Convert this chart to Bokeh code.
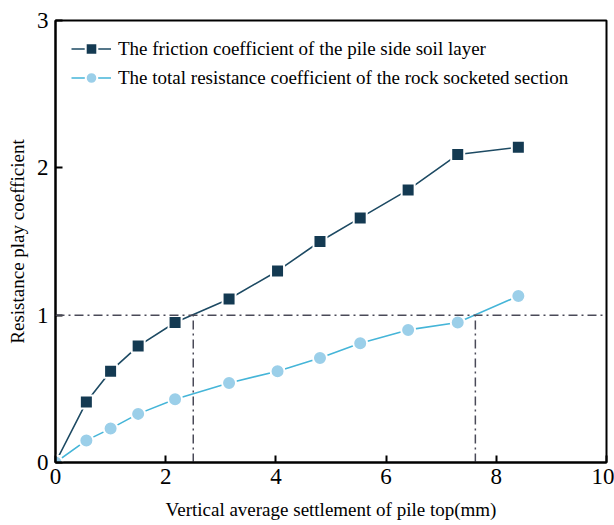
from bokeh.plotting import figure
from bokeh.models import Range1d, FixedTicker, Span
from bokeh.embed import file_html
from bokeh.resources import INLINE

# Settlement of pile top (mm)
settlement = [0, 0.56, 1.0, 1.5, 2.17, 3.15, 4.03, 4.8, 5.53, 6.4, 7.3, 8.4]
# Friction coefficient of the pile side soil layer
friction_coef = [0, 0.41, 0.62, 0.79, 0.95, 1.11, 1.30, 1.50, 1.66, 1.85, 2.09, 2.14]
# Total resistance coefficient of the rock socketed section
rock_coef = [0, 0.15, 0.23, 0.33, 0.43, 0.54, 0.62, 0.71, 0.81, 0.90, 0.95, 1.13]

# Reference level and the settlements where each curve reaches it
ref_level = 1.0
crossings = [2.5, 7.62]

x_ticks = [0, 2, 4, 6, 8, 10]
y_ticks = [0, 1, 2, 3]

FONT = "Liberation Serif"
DARK = "#143a52"
DARK_LINE = "#1d4a63"
LIGHT = "#9bcfe9"
LIGHT_LINE = "#45b5d8"
GUIDE = "#4a4a58"

p = figure(width=614, height=525, output_backend="svg", toolbar_location=None,
           x_range=Range1d(0, 10), y_range=Range1d(0, 3),
           min_border_left=55, min_border_right=8, min_border_top=20,
           min_border_bottom=63)

p.xgrid.visible = False
p.ygrid.visible = False
p.outline_line_color = "black"
p.outline_line_width = 2
p.background_fill_color = "white"
p.border_fill_color = "white"

for ax in (p.xaxis[0], p.yaxis[0]):
    ax.axis_line_color = "black"
    ax.axis_line_width = 2
    ax.major_tick_in = 7
    ax.major_tick_out = 0
    ax.major_tick_line_width = 2
    ax.minor_tick_line_color = None
    ax.major_label_text_font = FONT
    ax.major_label_text_font_size = "23px"
    ax.major_label_text_color = "black"
    ax.axis_label_text_font = FONT
    ax.axis_label_text_font_size = "19px"
    ax.axis_label_text_font_style = "normal"
    ax.axis_label_text_color = "black"

p.xaxis.ticker = FixedTicker(ticks=x_ticks)
p.yaxis.ticker = FixedTicker(ticks=y_ticks)
p.xaxis.major_label_standoff = 6
p.yaxis.major_label_standoff = 7
p.xaxis.axis_label = "Vertical average settlement of pile top(mm)"
p.yaxis.axis_label = "Resistance play coefficient"
p.xaxis.axis_label_standoff = 12
p.yaxis.axis_label_standoff = 6

# Dash-dot guides at the reference level
p.add_layout(Span(location=ref_level, dimension="width", line_color=GUIDE,
                  line_width=1.5, line_dash="9 4 2 4"))
p.segment(x0=crossings, y0=[0] * len(crossings), x1=crossings,
          y1=[ref_level] * len(crossings), line_color=GUIDE, line_width=1.5,
          line_dash="9 4 2 4")

lab1 = "The friction coefficient of the pile side soil layer"
lab2 = "The total resistance coefficient of the rock socketed section"

p.line(settlement, friction_coef, line_color=DARK_LINE, line_width=1.6, legend_label=lab1)
p.scatter(settlement, friction_coef, marker="square", size=13, fill_color=DARK,
          line_color="white", line_width=2, legend_label=lab1)

p.line(settlement, rock_coef, line_color=LIGHT_LINE, line_width=1.6, legend_label=lab2)
p.scatter(settlement, rock_coef, marker="circle", size=14, fill_color=LIGHT,
          line_color="white", line_width=2, legend_label=lab2)

lg = p.legend[0]
lg.location = (16, 370)
lg.margin = 0
lg.padding = 14
lg.border_line_color = None
lg.background_fill_alpha = 0
lg.label_text_font = FONT
lg.label_text_font_size = "19px"
lg.label_text_color = "black"
lg.glyph_width = 40
lg.glyph_height = 29
lg.spacing = 0
lg.label_standoff = 7

open("out.html", "w").write(file_html(p, INLINE))
